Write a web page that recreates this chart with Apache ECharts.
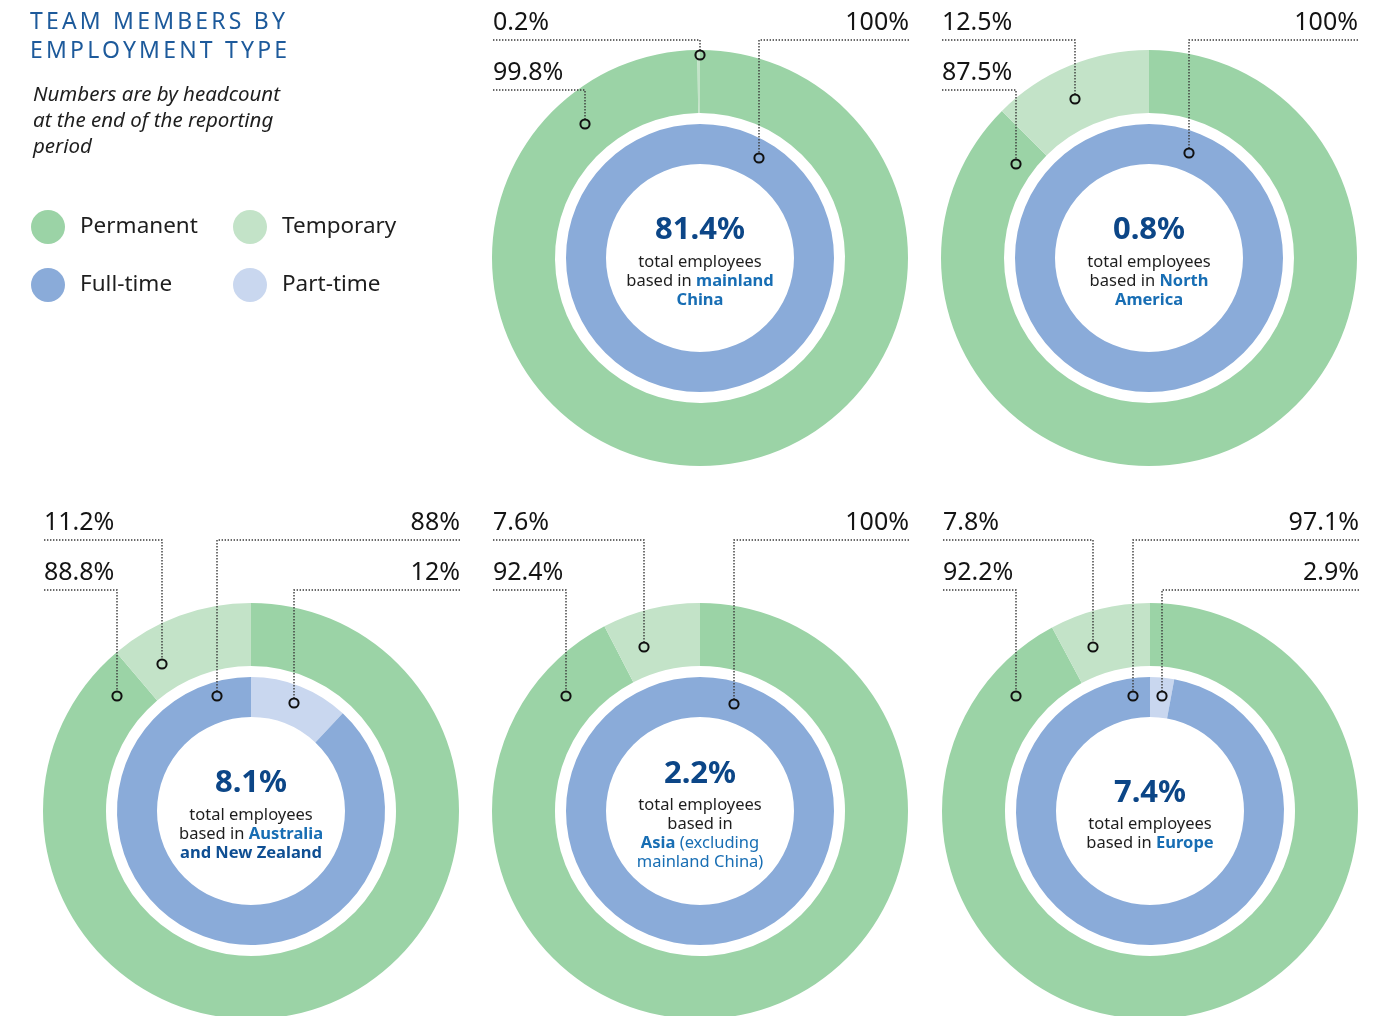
<!DOCTYPE html>
<html>
<head>
<meta charset="utf-8">
<title>Team members by employment type</title>
<script src="https://cdn.jsdelivr.net/npm/echarts@6/dist/echarts.min.js"></script>
<style>
  html, body { margin: 0; padding: 0; background: #ffffff; }
  #wrap { position: relative; width: 1389px; height: 1016px; overflow: hidden; }
  #chart { position: absolute; left: 0; top: 0; width: 1389px; height: 1016px; }
  #heading {
    position: absolute; left: 30px; top: 6px; margin: 0;
    font: 400 23px/29px "Noto Sans", sans-serif; letter-spacing: 3.2px;
    color: #1d5a9b; z-index: 2;
  }
</style>
</head>
<body>
<div id="wrap">
  <div id="chart"></div>
  <h1 id="heading">TEAM MEMBERS BY<br>EMPLOYMENT TYPE</h1>
</div>
<script>
// ---- data -------------------------------------------------------------
const regions = ['mainland China', 'North America', 'Australia and New Zealand',
                 'Asia (excluding mainland China)', 'Europe'];
const regionShare = [81.4, 0.8, 8.1, 2.2, 7.4];      // % of total employees
const permanent   = [99.8, 87.5, 88.8, 92.4, 92.2];  // outer ring
const temporary   = [0.2, 12.5, 11.2, 7.6, 7.8];     // outer ring
const fullTime    = [100, 100, 88, 100, 97.1];       // inner ring
const partTime    = [0, 0, 12, 0, 2.9];              // inner ring

// caption under the big figure, one rich-text line per entry
const captions = [
  ['{t|total employees}', '{t|based in }{b|mainland}', '{b|China}'],
  ['{t|total employees}', '{t|based in }{b|North}', '{b|America}'],
  ['{t|total employees}', '{t|based in }{b|Australia}', '{d|and New Zealand}'],
  ['{t|total employees}', '{t|based in}', '{b|Asia}{n| (excluding}', '{n|mainland China)}'],
  ['{t|total employees}', '{t|based in }{b|Europe}']
];

// ---- layout -----------------------------------------------------------
const FONT = '"Noto Sans", "Open Sans", sans-serif';
const COLORS = {
  Permanent: '#9bd3a6', Temporary: '#c3e3c8',
  'Full-time': '#8aabd9', 'Part-time': '#c9d7ef'
};
const centers = [[700, 258], [1149, 258], [251, 811], [700, 811], [1150, 811]];
const OUTER = [145, 208];
const INNER = [94, 134];
const labelRows = [[40, 90], [40, 90], [540, 590], [540, 590], [540, 590]];
const LEFT_EDGE = -207, RIGHT_EDGE = 209;
// where each leader line lands, relative to the donut centre
const anchors = [
  { perm: [-115, -134], temp: [0, -203],    full: [59, -100] },
  { perm: [-133, -94],  temp: [-74, -159],  full: [40, -105] },
  { perm: [-134, -115], temp: [-89, -147],  full: [-34, -115], part: [43, -108] },
  { perm: [-134, -115], temp: [-56, -164],  full: [34, -107] },
  { perm: [-134, -115], temp: [-57, -164],  full: [-17, -115], part: [12, -115] }
];

// ---- series -----------------------------------------------------------
const series = [];
regions.forEach((name, i) => {
  const base = {
    type: 'pie', center: centers[i], startAngle: 90, clockwise: true, z: 1,
    silent: true, animation: false, label: { show: false }, labelLine: { show: false },
    emphasis: { disabled: true }, itemStyle: { borderWidth: 0 }
  };
  series.push(Object.assign({}, base, {
    name: name + ' contract', radius: OUTER,
    data: [
      { name: 'Permanent', value: permanent[i], itemStyle: { color: COLORS.Permanent } },
      { name: 'Temporary', value: temporary[i], itemStyle: { color: COLORS.Temporary } }
    ]
  }));
  series.push(Object.assign({}, base, {
    name: name + ' hours', radius: INNER,
    data: [
      { name: 'Part-time', value: partTime[i], itemStyle: { color: COLORS['Part-time'] } },
      { name: 'Full-time', value: fullTime[i], itemStyle: { color: COLORS['Full-time'] } }
    ]
  }));
});

// ---- annotations --------------------------------------------------------
const graphics = [];
const DOT = { stroke: '#3a3a3a', lineWidth: 1.4, lineDash: [1.4, 1.6], fill: null };

function callout(i, value, anchor, side, row) {
  const [cx, cy] = centers[i];
  const ly = labelRows[i][row];
  const mx = cx + anchor[0], my = cy + anchor[1];
  const ex = cx + (side === 'left' ? LEFT_EDGE : RIGHT_EDGE);
  graphics.push({
    type: 'polyline', silent: true, z: 10,
    shape: { points: [[ex, ly], [mx, ly], [mx, my - 5]] },
    style: DOT
  });
  graphics.push({
    type: 'circle', silent: true, z: 11,
    shape: { cx: mx, cy: my, r: 4.6 },
    style: { fill: 'rgba(0,0,0,0)', stroke: '#111111', lineWidth: 2 }
  });
  graphics.push({
    type: 'text', silent: true, z: 10, x: ex, y: ly - 17,
    style: {
      text: value + '%', fill: '#141414', font: '400 25px ' + FONT,
      textAlign: side, textVerticalAlign: 'middle'
    }
  });
}

regions.forEach((name, i) => {
  const a = anchors[i];
  callout(i, temporary[i], a.temp, 'left', 0);
  callout(i, permanent[i], a.perm, 'left', 1);
  callout(i, fullTime[i], a.full, 'right', 0);
  if (partTime[i] > 0) callout(i, partTime[i], a.part, 'right', 1);

  const [cx, cy] = centers[i];
  graphics.push({
    type: 'text', silent: true, z: 10, x: cx, y: cy + 1,
    style: {
      text: ['{p|' + regionShare[i] + '%}'].concat(captions[i]).join('\n'),
      textAlign: 'center', textVerticalAlign: 'middle',
      rich: {
        p: { fontFamily: FONT, fontSize: 31, fontWeight: 'bold', fill: '#0c4687', lineHeight: 44 },
        t: { fontFamily: FONT, fontSize: 16.5, fill: '#1e1e1e', lineHeight: 19 },
        b: { fontFamily: FONT, fontSize: 16.5, fontWeight: 'bold', fill: '#186eb4', lineHeight: 19 },
        d: { fontFamily: FONT, fontSize: 16.5, fontWeight: 'bold', fill: '#0f4f93', lineHeight: 19 },
        n: { fontFamily: FONT, fontSize: 16.5, fill: '#186eb4', lineHeight: 19 }
      }
    }
  });
});

// note under the heading
graphics.push({
  type: 'text', silent: true, x: 33, y: 82,
  style: {
    text: 'Numbers are by headcount\nat the end of the reporting\nperiod',
    font: 'italic 400 20.5px ' + FONT, fill: '#1e1e1e', lineHeight: 26,
    textAlign: 'left', textVerticalAlign: 'top'
  }
});

const legendBase = {
  orient: 'vertical', top: 210, icon: 'circle', itemWidth: 34, itemHeight: 34,
  itemGap: 24, padding: 0, selectedMode: false,
  textStyle: { fontFamily: FONT, fontSize: 22.5, color: '#1e1e1e', padding: [4, 0, 0, 10] }
};

const chart = echarts.init(document.getElementById('chart'), null, { renderer: 'canvas' });
chart.setOption({
  backgroundColor: '#ffffff',
  animation: false,
  legend: [
    Object.assign({}, legendBase, { left: 31, data: ['Permanent', 'Full-time'] }),
    Object.assign({}, legendBase, { left: 233, data: ['Temporary', 'Part-time'] })
  ],
  series: series,
  graphic: { elements: graphics }
});
</script>
</body>
</html>
